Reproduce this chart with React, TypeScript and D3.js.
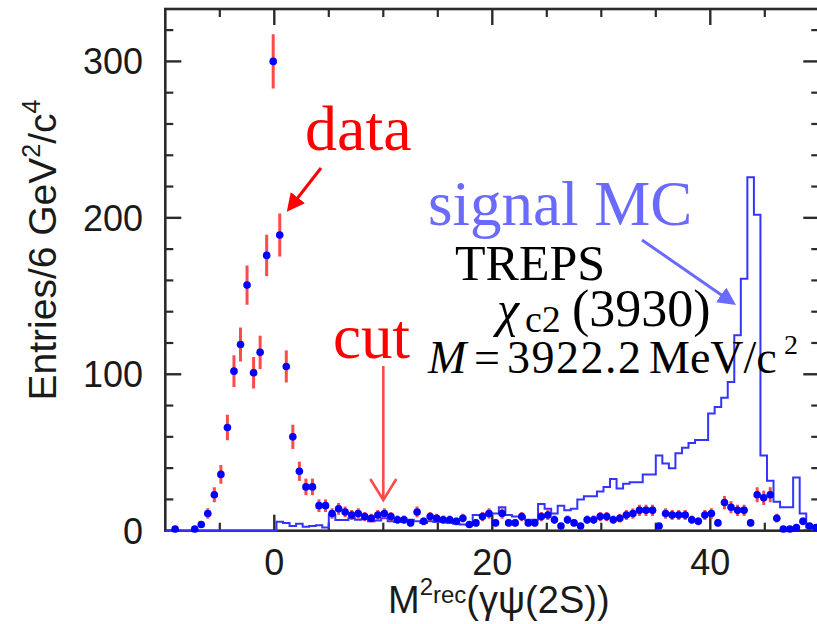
import React from "react";
import * as d3 from "d3";

// Histogram binning of M^2_rec: 100 bins of 0.6 GeV^2/c^4 from -10 to 50
const X_MIN = -10;
const X_MAX = 50;
const BIN_WIDTH = 0.6;

// Observed entries per bin (data points with sqrt(N) errors)
const dataCounts = [
  0, 1, 0, 0, 1, 4, 11, 23, 36, 66,
  102, 119, 157, 101, 114, 176, 300, 189, 105, 60,
  38, 28, 28, 16, 16, 11, 14, 12, 10, 11,
  9, 8, 10, 11, 9, 7, 7, 5, 12, 6,
  9, 8, 7, 7, 6, 8, 4, 5, 9, 11,
  5, 11, 5, 5, 9, 5, 5, 9, 10, 7,
  3, 7, 5, 3, 7, 7, 9, 9, 7, 8,
  10, 11, 13, 13, 13, 3, 11, 10, 10, 10,
  7, 6, 10, 11, 5, 18, 15, 13, 13, 5,
  23, 21, 23, 8, 1, 1, 2, 6, 3, 2,
];

// Signal MC expectation per bin (TREPS, chi_c2(3930))
const mcCounts = [
  0, 0, 0, 0, 0, 0, 0, 0, 0, 0,
  0, 0, 0, 0, 0, 0, 0, 5.8, 5, 3,
  4.5, 2.6, 3, 3.5, 2, 10, 6.8, 6.8, 8, 7,
  7.5, 6, 6.5, 8, 6, 5.5, 6, 7, 6, 5,
  6, 5.5, 6, 5, 4.5, 4, 3.6, 10, 10, 11,
  11, 15, 10, 9, 9, 7, 7, 17, 14, 11,
  16, 13, 14, 20, 22, 22, 25, 28, 33, 27,
  30, 31, 31, 36, 36, 48, 43, 40, 49.5, 53,
  56, 58, 58, 75, 79, 85, 95, 125, 161, 226,
  202, 48, 32, 18.5, 15, 15, 34, 11, 2, 1,
];

const xMajorTicks = [0, 20, 40];
const xMinorTicks = [-5, 5, 10, 15, 25, 30, 35, 45];
const yMajorTicks = [0, 100, 200, 300];
const yMinorTicks = [20, 40, 60, 80, 120, 140, 160, 180, 220, 240, 260, 280, 320];

const CUT_VALUE = 10;

const W = 817;
const H = 624;
const plot = { left: 165.3, right: 819.3, top: 9, bottom: 530.7 };

const sans = "'Liberation Sans', Arial, Helvetica, sans-serif";
const serif = "'Liberation Serif', 'Times New Roman', serif";

export default function App() {
  const x = d3.scaleLinear().domain([X_MIN, X_MAX]).range([plot.left, plot.right]);
  const y = d3.scaleLinear().domain([0, 333.5]).range([plot.bottom, plot.top]);

  const binLow = (k: number) => X_MIN + k * BIN_WIDTH;
  const binCenter = (k: number) => X_MIN + (k + 0.5) * BIN_WIDTH;

  // Step outline of the MC histogram
  const mcPoints: [number, number][] = mcCounts.map((v, k) => [binLow(k), v]);
  mcPoints.push([X_MAX, mcCounts[mcCounts.length - 1]]);
  const mcPath = d3
    .line<[number, number]>()
    .x((d) => x(d[0]))
    .y((d) => y(d[1]))
    .curve(d3.curveStepAfter)(mcPoints) as string;

  const points = dataCounts
    .map((v, k) => ({ xc: binCenter(k), v }))
    .filter((d) => d.v > 0);

  const axisColor = "#2b2b2b";
  const majorLen = 16;
  const minorLen = 8;

  return (
    <svg
      width={W}
      height={H}
      viewBox={`0 0 ${W} ${H}`}
      style={{ position: "absolute", left: 0, top: 0, background: "#fff" }}
    >
      <rect x={0} y={0} width={W} height={H} fill="#fff" />
      <defs>
        <clipPath id="plotClip">
          <rect x={plot.left} y={plot.top} width={plot.right - plot.left} height={plot.bottom - plot.top + 2} />
        </clipPath>
        <marker id="headRed" viewBox="0 0 10 10" refX="8" refY="5" markerWidth="6" markerHeight="6" orient="auto">
          <path d="M0,0 L10,5 L0,10 z" fill="#ff0000" />
        </marker>
        <marker id="headBlue" viewBox="0 0 10 10" refX="8" refY="5" markerWidth="6" markerHeight="6" orient="auto">
          <path d="M0,0 L10,5 L0,10 z" fill="#6a6aff" />
        </marker>
      </defs>

      {/* frame */}
      <rect
        x={plot.left}
        y={plot.top}
        width={plot.right - plot.left}
        height={plot.bottom - plot.top}
        fill="none"
        stroke={axisColor}
        strokeWidth={2.6}
      />

      {/* x ticks (bottom and top, inward) */}
      {xMajorTicks.map((t) => (
        <g key={`xM${t}`}>
          <line x1={x(t)} x2={x(t)} y1={plot.bottom} y2={plot.bottom - majorLen} stroke={axisColor} strokeWidth={2.4} />
          <line x1={x(t)} x2={x(t)} y1={plot.top} y2={plot.top + majorLen} stroke={axisColor} strokeWidth={2.4} />
          <text x={x(t)} y={575} textAnchor="middle" fontFamily={sans} fontSize={36} fill="#1a1a1a">
            {t}
          </text>
        </g>
      ))}
      {xMinorTicks.map((t) => (
        <g key={`xm${t}`}>
          <line x1={x(t)} x2={x(t)} y1={plot.bottom} y2={plot.bottom - minorLen} stroke={axisColor} strokeWidth={2.2} />
          <line x1={x(t)} x2={x(t)} y1={plot.top} y2={plot.top + minorLen} stroke={axisColor} strokeWidth={2.2} />
        </g>
      ))}

      {/* y ticks (left and right, inward) */}
      {yMajorTicks.map((t) => (
        <g key={`yM${t}`}>
          <line x1={plot.left} x2={plot.left + majorLen} y1={y(t)} y2={y(t)} stroke={axisColor} strokeWidth={2.4} />
          <line x1={plot.right} x2={plot.right - majorLen} y1={y(t)} y2={y(t)} stroke={axisColor} strokeWidth={2.4} />
          <text x={143} y={y(t) + 13} textAnchor="end" fontFamily={sans} fontSize={36} fill="#1a1a1a">
            {t}
          </text>
        </g>
      ))}
      {yMinorTicks.map((t) => (
        <g key={`ym${t}`}>
          <line x1={plot.left} x2={plot.left + minorLen} y1={y(t)} y2={y(t)} stroke={axisColor} strokeWidth={2.2} />
          <line x1={plot.right} x2={plot.right - minorLen} y1={y(t)} y2={y(t)} stroke={axisColor} strokeWidth={2.2} />
        </g>
      ))}

      {/* axis titles */}
      <text x={388} y={613} fontFamily={sans} fontSize={38} fill="#1a1a1a">
        M
        <tspan fontSize={24} dy={-18}>2</tspan>
        <tspan fontSize={24} dy={8}>rec</tspan>
        <tspan fontSize={38} dy={10}>(γψ(2S))</tspan>
      </text>
      <text
        transform={`translate(56, 250) rotate(-90)`}
        textAnchor="middle"
        fontFamily={sans}
        fontSize={39}
        fill="#1a1a1a"
      >
        Entries/6 GeV
        <tspan fontSize={25} dy={-16}>2</tspan>
        <tspan fontSize={39} dy={16}>/c</tspan>
        <tspan fontSize={25} dy={-16}>4</tspan>
      </text>

      {/* signal MC histogram */}
      <g clipPath="url(#plotClip)">
        <path d={mcPath} fill="none" stroke="#3434ff" strokeWidth={2} />

        {/* data points with sqrt(N) error bars */}
        {points.map((d, i) => {
          const err = Math.sqrt(d.v);
          return (
            <line
              key={`e${i}`}
              x1={x(d.xc)}
              x2={x(d.xc)}
              y1={y(d.v + err)}
              y2={y(Math.max(0, d.v - err))}
              stroke="#ff2a2a"
              strokeOpacity={0.85}
              strokeWidth={3}
            />
          );
        })}
        {points.map((d, i) => (
          <circle key={`p${i}`} cx={x(d.xc)} cy={y(d.v)} r={3.8} fill="#0000ff" />
        ))}
      </g>

      {/* annotations */}
      <text x={305} y={150} fontFamily={serif} fontSize={64} fill="#ff0000">
        data
      </text>
      <line x1={321} y1={168} x2={289} y2={209} stroke="#ff0000" strokeWidth={3} markerEnd="url(#headRed)" />

      <text x={428} y={225} fontFamily={serif} fontSize={63} fill="#6a6aff">
        signal MC
      </text>
      <line x1={642} y1={240} x2={733} y2={303} stroke="#6a6aff" strokeWidth={3} markerEnd="url(#headBlue)" />

      <text x={455} y={280} fontFamily={serif} fontSize={50} fill="#000">
        TREPS
      </text>
      <text y={326} fontFamily={serif} fontSize={50} fill="#000">
        <tspan x={497} fontStyle="italic">χ</tspan>
        <tspan x={525} fontSize={38} dy={6}>c2</tspan>
        <tspan x={572} dy={-6} fontSize={52}>(3930)</tspan>
      </text>
      <text y={373} fontFamily={serif} fontSize={46} fill="#000">
        <tspan x={428} fontStyle="italic">M</tspan>
        <tspan x={474}>=</tspan>
        <tspan x={507} letterSpacing={1.5}>3922.2</tspan>
        <tspan x={649}>MeV/c</tspan>
        <tspan x={784} fontSize={28} dy={-19}>2</tspan>
      </text>

      <text x={333} y={358} fontFamily={serif} fontSize={63} fill="#ff0000">
        cut
      </text>
      <g stroke="#ff4a4a" strokeWidth={2.6} fill="none">
        <line x1={x(CUT_VALUE)} x2={x(CUT_VALUE)} y1={366} y2={500} />
        <polyline points={`${x(CUT_VALUE) - 13},479 ${x(CUT_VALUE)},500 ${x(CUT_VALUE) + 13},479`} />
      </g>
    </svg>
  );
}
